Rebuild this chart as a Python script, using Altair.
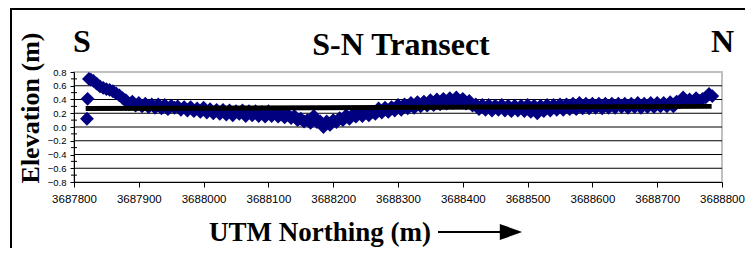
import altair as alt
import pandas as pd

# ---- data ----
northing = [
    3687820, 3687821, 3687823, 3687826,
    3687830, 3687835, 3687840, 3687845, 3687850, 3687855, 3687860, 3687865, 3687870, 3687875,
    3687880, 3687885, 3687890, 3687895, 3687900, 3687905, 3687910, 3687915, 3687920, 3687925,
    3687930, 3687935, 3687940, 3687945, 3687950, 3687955, 3687960, 3687965, 3687970, 3687975,
    3687980, 3687985, 3687990, 3687995, 3688000, 3688005, 3688010, 3688015, 3688020, 3688025,
    3688030, 3688035, 3688040, 3688045, 3688050, 3688055, 3688060, 3688065, 3688070, 3688075,
    3688080, 3688085, 3688090, 3688095, 3688100, 3688105, 3688110, 3688115, 3688120, 3688125,
    3688130, 3688135, 3688140, 3688145, 3688150, 3688155, 3688160, 3688165, 3688170, 3688175,
    3688180, 3688185, 3688190, 3688195, 3688200, 3688205, 3688210, 3688215, 3688220, 3688225,
    3688230, 3688235, 3688240, 3688245, 3688250, 3688255, 3688260, 3688265, 3688270, 3688275,
    3688280, 3688285, 3688290, 3688295, 3688300, 3688305, 3688310, 3688315, 3688320, 3688325,
    3688330, 3688335, 3688340, 3688345, 3688350, 3688355, 3688360, 3688365, 3688370, 3688375,
    3688380, 3688385, 3688390, 3688395, 3688400, 3688405, 3688410, 3688415, 3688420, 3688425,
    3688430, 3688435, 3688440, 3688445, 3688450, 3688455, 3688460, 3688465, 3688470, 3688475,
    3688480, 3688485, 3688490, 3688495, 3688500, 3688505, 3688510, 3688515, 3688520, 3688525,
    3688530, 3688535, 3688540, 3688545, 3688550, 3688555, 3688560, 3688565, 3688570, 3688575,
    3688580, 3688585, 3688590, 3688595, 3688600, 3688605, 3688610, 3688615, 3688620, 3688625,
    3688630, 3688635, 3688640, 3688645, 3688650, 3688655, 3688660, 3688665, 3688670, 3688675,
    3688680, 3688685, 3688690, 3688695, 3688700, 3688705, 3688710, 3688715, 3688720, 3688725,
    3688730, 3688735, 3688740, 3688745, 3688750, 3688755, 3688760, 3688765, 3688770, 3688775,
    3688780, 3688785,
]
elevation = [
    0.12, 0.41, 0.70, 0.69,
    0.67, 0.63, 0.59, 0.57, 0.55, 0.54, 0.52, 0.49, 0.46, 0.42,
    0.39, 0.33, 0.37, 0.31, 0.35, 0.30, 0.34, 0.29, 0.33, 0.28,
    0.33, 0.27, 0.32, 0.26, 0.31, 0.28, 0.30, 0.25, 0.29, 0.24,
    0.29, 0.23, 0.27, 0.22, 0.28, 0.21, 0.26, 0.20, 0.25, 0.19,
    0.25, 0.18, 0.24, 0.17, 0.23, 0.19, 0.24, 0.16, 0.23, 0.17,
    0.23, 0.16, 0.22, 0.15, 0.23, 0.16, 0.21, 0.15, 0.20, 0.14,
    0.18, 0.13, 0.16, 0.10, 0.12, 0.08, 0.10, 0.06, 0.16, 0.07,
    0.08, 0.00, 0.08, 0.03, 0.10, 0.07, 0.13, 0.10, 0.17, 0.12,
    0.18, 0.15, 0.20, 0.16, 0.21, 0.17, 0.22, 0.19, 0.27, 0.21,
    0.28, 0.22, 0.29, 0.24, 0.32, 0.25, 0.33, 0.27, 0.35, 0.28,
    0.36, 0.30, 0.37, 0.31, 0.39, 0.32, 0.40, 0.33, 0.41, 0.34,
    0.42, 0.35, 0.43, 0.36, 0.41, 0.34, 0.38, 0.31, 0.33, 0.26,
    0.32, 0.25, 0.32, 0.24, 0.31, 0.25, 0.32, 0.24, 0.31, 0.23,
    0.31, 0.24, 0.31, 0.23, 0.32, 0.22, 0.31, 0.20, 0.31, 0.23,
    0.32, 0.24, 0.32, 0.25, 0.33, 0.25, 0.33, 0.26, 0.34, 0.26,
    0.35, 0.27, 0.34, 0.27, 0.34, 0.28, 0.34, 0.27, 0.34, 0.28,
    0.34, 0.28, 0.34, 0.29, 0.34, 0.28, 0.34, 0.29, 0.35, 0.28,
    0.34, 0.29, 0.35, 0.29, 0.35, 0.30, 0.35, 0.30, 0.36, 0.30,
    0.37, 0.36, 0.43, 0.38, 0.40, 0.37, 0.42, 0.38, 0.41, 0.43,
    0.48, 0.45,
]
trend_northing = [3687818, 3688784]
trend_elevation = [0.27, 0.30]

x_tick_values = [3687800, 3687900, 3688000, 3688100, 3688200, 3688300,
                 3688400, 3688500, 3688600, 3688700, 3688800]
y_tick_values = [-0.8, -0.6, -0.4, -0.2, 0.0, 0.2, 0.4, 0.6, 0.8]
grid_values = [-0.6, -0.4, -0.2, 0.0, 0.2, 0.4, 0.6]
minor_values = [-0.7, -0.5, -0.3, -0.1, 0.1, 0.3, 0.5, 0.7]

title_text = "S-N Transect"
south_label = "S"
north_label = "N"
x_title = "UTM Northing (m)"
y_title = "Elevation (m)"

pts = pd.DataFrame({"n": northing, "e": elevation})
trend = pd.DataFrame({"n": trend_northing, "e": trend_elevation})
grid = pd.DataFrame({"e": grid_values})
minor = pd.DataFrame({"e": minor_values})

W, H = 648, 110
xs = alt.Scale(domain=[3687800, 3688800], nice=False, zero=False)
ys = alt.Scale(domain=[-0.8, 0.8], nice=False, zero=False)

SERIF = "Liberation Serif"
SANS = "Liberation Sans"

x_axis = alt.Axis(
    values=x_tick_values, format="d", title=None, grid=False,
    labelFont=SANS, labelFontSize=11.5, labelColor="black",
    labelPadding=6, tickSize=5, tickColor="black",
    domainColor="black", domainWidth=1, labelFlush=False, labelOverlap=False)
y_axis = alt.Axis(
    values=y_tick_values, format=".1f", title=None, grid=False,
    labelFont=SANS, labelFontSize=9.5, labelColor="black",
    labelPadding=4, tickSize=4, tickColor="black",
    domainColor="black", domainWidth=1, labelOverlap=False)

grid_layer = alt.Chart(grid).mark_rule(color="black", strokeWidth=1).encode(
    y=alt.Y("e:Q", scale=ys, axis=y_axis)
)
minor_layer = alt.Chart(minor).mark_rule(color="black", strokeWidth=1).encode(
    y=alt.Y("e:Q", scale=ys, axis=y_axis),
    x=alt.value(-3), x2=alt.value(3)
)

points = alt.Chart(pts).mark_point(
    shape="diamond", filled=True, size=190, color="#000080", opacity=1
).encode(
    x=alt.X("n:Q", scale=xs, axis=x_axis),
    y=alt.Y("e:Q", scale=ys, axis=y_axis),
)

trend_line = alt.Chart(trend).mark_line(color="black", strokeWidth=5).encode(
    x=alt.X("n:Q", scale=xs, axis=x_axis),
    y=alt.Y("e:Q", scale=ys, axis=y_axis),
)


def label(text, x, y, size, angle=0, baseline="alphabetic"):
    return alt.Chart(pd.DataFrame({"t": [text]})).mark_text(
        font=SERIF, fontWeight="bold", fontSize=size, color="black",
        align="center", baseline=baseline, angle=angle
    ).encode(text="t:N", x=alt.value(x), y=alt.value(y))


title_layer = label(title_text, 327, -17, 32)
s_layer = label(south_label, 8, -20, 32)
n_layer = label(north_label, 648.5, -20, 32)
xt_layer = label(x_title, 246, 169, 27)
yt_layer = label(y_title, -43, 36, 26, angle=270, baseline="middle")

arrow_shaft = alt.Chart(pd.DataFrame({"a": [0]})).mark_rule(
    color="black", strokeWidth=2
).encode(x=alt.value(364), x2=alt.value(430), y=alt.value(160))
arrow_head = alt.Chart(pd.DataFrame({"a": [0]})).mark_point(
    shape="M-1,-0.72L1,0L-1,0.72Z", filled=True, size=500, color="black", opacity=1
).encode(x=alt.value(437), y=alt.value(160))

frame_left = alt.Chart(pd.DataFrame({"a": [0]})).mark_rule(
    color="black", strokeWidth=2
).encode(x=alt.value(-63), y=alt.value(-64), y2=alt.value(200))
frame_top = alt.Chart(pd.DataFrame({"a": [0]})).mark_rule(
    color="black", strokeWidth=2
).encode(x=alt.value(-64), x2=alt.value(700), y=alt.value(-63))

chart = alt.layer(
    grid_layer, minor_layer, points, trend_line,
    title_layer, s_layer, n_layer, xt_layer, yt_layer,
    arrow_shaft, arrow_head, frame_left, frame_top
).properties(
    width=W, height=H,
    background="white",
    autosize=alt.AutoSizeParams(type="none"),
    padding={"left": 66, "top": 64, "right": 23, "bottom": 66},
).configure_view(
    stroke="#c0c0c0", strokeWidth=2
)

chart.save("out.html", embed_options={"renderer": "svg", "actions": False})
